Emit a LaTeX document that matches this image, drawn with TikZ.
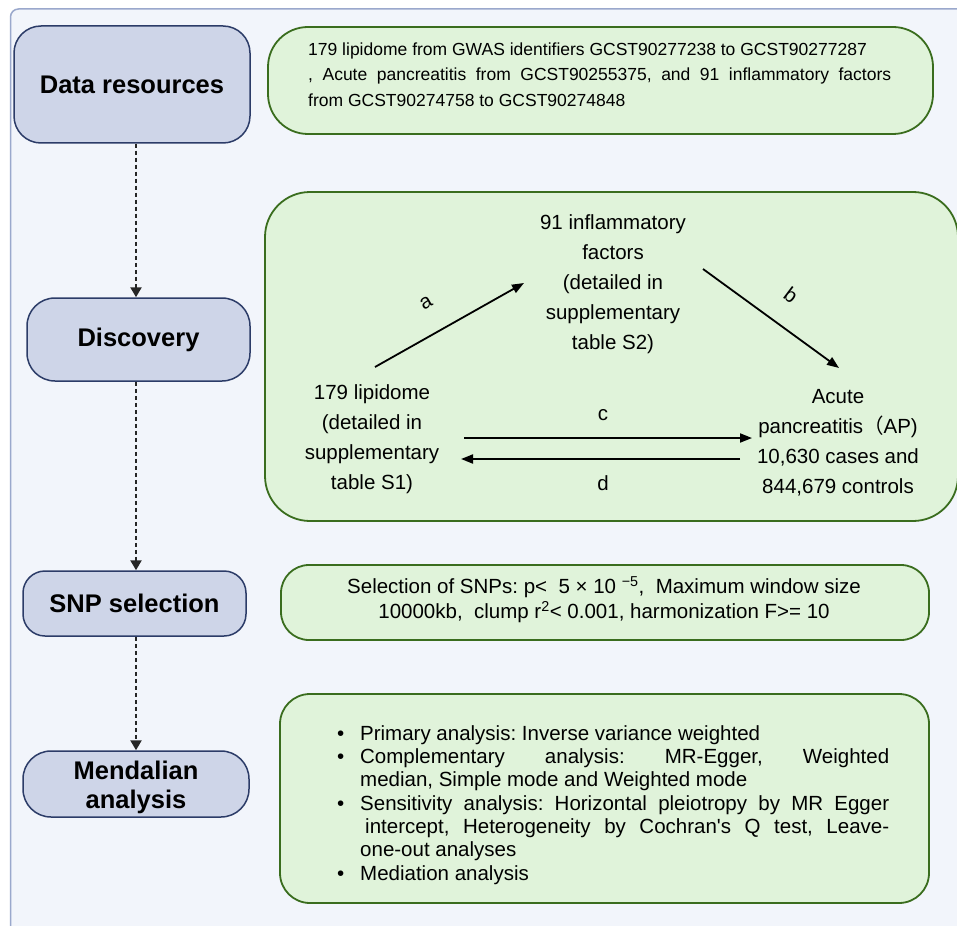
\documentclass[tikz,border=0pt]{standalone}
\usepackage{fontspec}
\setmainfont{Liberation Sans}
\newfontfamily\cjkfont{Noto Sans CJK SC}
\newfontfamily\aposfont{Liberation Sans}
\usetikzlibrary{arrows.meta,calc}
\frenchspacing
\definecolor{bgc}{HTML}{F2F5FB}
\definecolor{framec}{HTML}{9AA8CC}
\definecolor{lboxf}{HTML}{CED5E8}
\definecolor{lboxd}{HTML}{2C3C68}
\definecolor{gboxf}{HTML}{E0F3DA}
\definecolor{gboxd}{HTML}{3A6D1E}
\newcommand\jline[2]{\makebox[#1][s]{\spaceskip=0pt\xspaceskip=0pt\relax #2}}
\newcommand\bul{\llap{\textbullet\hspace{16pt}}}
\begin{document}
\begin{tikzpicture}[x=1pt,y=-1pt,
  lbox/.style={draw=lboxd, fill=lboxf, line width=1.5pt, inner sep=0pt, align=center,
     font=\fontsize{25.5}{29}\selectfont\bfseries},
  gbox/.style={draw=gboxd, fill=gboxf, line width=1.8pt, inner sep=0pt},
  body/.style={inner sep=0pt, font=\fontsize{20.5}{30}\selectfont, align=center},
  conn/.style={draw=black!85, line width=2.8pt, dash pattern=on 4pt off 3pt,
     -{Triangle[length=10pt,width=11pt]}},
  arr/.style={line width=1.8pt, -{Triangle[length=12pt,width=9pt]}},
  lbl/.style={inner sep=0pt, font=\fontsize{20.5}{24}\selectfont}]
\useasboundingbox (0,0) rectangle (957,925);
\fill[white] (0,0) rectangle (957,925);
\clip (0,0) rectangle (957,925);
\draw[fill=bgc, draw=framec, line width=1.5pt, rounded corners=8pt] (10.5,9) rectangle (990,960);

% left column
\node[lbox, minimum width=236pt, minimum height=117pt, rounded corners=27pt] (dr) at (132,84.5) {Data resources};
\node[lbox, minimum width=223pt, minimum height=83pt, rounded corners=28pt] (disc) at (138.5,339.5) {Discovery};
\node[lbox, minimum width=223pt, minimum height=65pt, rounded corners=22pt] (snp) at (134.5,603.5) {SNP selection};
\node[lbox, minimum width=226pt, minimum height=66pt, rounded corners=28pt] (mend) at (136,784) {\rule{0pt}{25pt}Mendalian\\analysis};

\coordinate (axis) at (136,0);
\draw[conn] (dr.south -| axis) -- (disc.north -| axis);
\draw[conn] (disc.south -| axis) -- (snp.north -| axis);
\draw[conn] (snp.south -| axis) -- (mend.north -| axis);

% green boxes
\node[gbox, minimum width=665pt, minimum height=107pt, rounded corners=40pt] (g1) at (600.5,80.5) {};
\node[gbox, minimum width=693pt, minimum height=329pt, rounded corners=45pt] (g2) at (611.5,356.5) {};
\node[gbox, minimum width=648pt, minimum height=75pt, rounded corners=28pt] (g3) at (605,602.5) {};
\node[gbox, minimum width=649pt, minimum height=209pt, rounded corners=30pt] (g4) at (604.5,798.5) {};

% box 1 text
\node[anchor=north west, inner sep=0pt, align=left,
  font=\fontsize{17.5}{25.5}\selectfont] (t1) at (308,42.5)
 {179 lipidome from GWAS identifiers GCST90277238 to GCST90277287\\
  \jline{583pt}{, Acute pancreatitis from GCST90255375, and 91 inflammatory factors}\\
  from GCST90274758 to GCST90274848};

% discovery content
\node[body] (infl) at (613,284.5) {91 inflammatory\\factors\\(detailed in\\supplementary\\table S2)};
\node[body] (lip) at (372,439.5) {179 lipidome\\(detailed in\\supplementary\\table S1)};
\node[body] (ap) at (838,443) {Acute\\pancreatitis{\cjkfont （}AP)\\10,630 cases and\\844,679 controls};

\coordinate (a1) at (375,367);
\coordinate (a2) at (524,283);
\coordinate (b1) at (703,269);
\coordinate (b2) at (839,368);
\coordinate (c1) at (464,438);
\coordinate (c2) at (752,438);
\coordinate (d1) at (740,459);
\coordinate (d2) at (461,459);
\draw[arr] (a1) -- (a2);
\draw[arr] (b1) -- (b2);
\draw[arr] (c1) -- (c2);
\draw[arr] (d1) -- (d2);
\node[lbl, rotate=30] (la) at (426,303) {a};
\node[lbl, rotate=-37] (lb) at (791,295) {b};
\node[lbl] (lc) at (603,415) {c};
\node[lbl] (ld) at (603,483) {d};

% SNP selection text
\node[body, font=\fontsize{20.5}{25}\selectfont] (t3) at (604,599.5)
 {Selection of SNPs: p<\ \ 5 × 10 \textsuperscript{−5},\ \ Maximum window size\\
  10000kb,\ \ clump r\textsuperscript{2}< 0.001, harmonization F>= 10};

% Mendelian analysis list
\node[anchor=north west, inner sep=0pt, align=left,
  font=\fontsize{20.5}{23.3}\selectfont] (t4) at (360,725.3)
 {\bul Primary analysis: Inverse variance weighted\\
  \bul\jline{529pt}{Complementary analysis: MR-Egger, Weighted}\\
  median, Simple mode and Weighted mode\\
  \bul\jline{529pt}{Sensitivity analysis: Horizontal pleiotropy by MR Egger}\\
  \jline{529pt}{\hspace{5pt}intercept, Heterogeneity by Cochran{\aposfont '}s Q test, Leave-}\\
  one-out analyses\\
  \bul Mediation analysis};
\end{tikzpicture}
\end{document}
